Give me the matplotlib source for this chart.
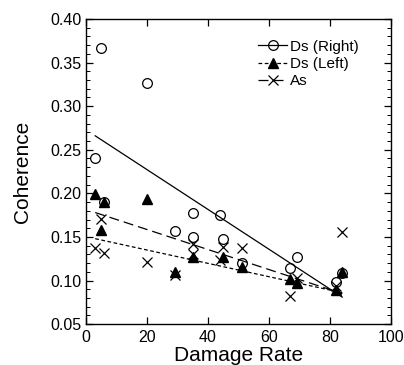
import numpy as np
import matplotlib
matplotlib.use("Agg")
import matplotlib.pyplot as plt
from matplotlib.lines import Line2D
from matplotlib.ticker import MultipleLocator

plt.rcParams['font.family'] = ['Liberation Sans', 'DejaVu Sans']

# Ds (Right) - open circles
right_x = [3, 5, 6, 20, 29, 35, 35, 44, 45, 51, 67, 69, 82, 84]
right_y = [0.240, 0.367, 0.190, 0.327, 0.157, 0.178, 0.150, 0.175, 0.148,
           0.120, 0.114, 0.127, 0.098, 0.109]

# Ds (Left) - filled triangles
left_x = [3, 5, 6, 20, 29, 35, 45, 51, 67, 69, 82, 84]
left_y = [0.199, 0.158, 0.190, 0.194, 0.110, 0.127, 0.127, 0.115, 0.102,
          0.097, 0.089, 0.110]

# As - crosses
as_x = [3, 5, 6, 20, 29, 35, 35, 44, 45, 51, 67, 69, 82, 84]
as_y = [0.137, 0.171, 0.132, 0.121, 0.106, 0.142, 0.130, 0.123, 0.139,
        0.137, 0.082, 0.103, 0.094, 0.156]

# fitted lines (end points)
fit_x = [3, 84]
fit_right = [0.266, 0.081]
fit_left = [0.148, 0.086]
fit_as = [0.178, 0.085]

fig = plt.figure(figsize=(4.04, 3.65), dpi=100)
ax = fig.add_axes([0.213, 0.112, 0.755, 0.836])

ax.plot(fit_x, fit_right, color='black', lw=0.9, ls='-')
ax.plot(fit_x, fit_left, color='black', lw=0.9, ls=(0, (3, 2)))
ax.plot(fit_x, fit_as, color='black', lw=0.9, ls=(0, (8, 4)))

ax.plot(right_x, right_y, ls='none', marker='o', ms=7, mfc='none',
        mec='black', mew=0.9)
ax.plot(left_x, left_y, ls='none', marker='^', ms=6.5, mfc='black',
        mec='black')
ax.plot(as_x, as_y, ls='none', marker='x', ms=7, color='black', mew=0.9)

ax.set_xlim(0, 100)
ax.set_ylim(0.05, 0.40)
ax.xaxis.set_major_locator(MultipleLocator(20))
ax.yaxis.set_major_locator(MultipleLocator(0.05))
ax.yaxis.set_minor_locator(MultipleLocator(0.01))
ax.yaxis.set_major_formatter(matplotlib.ticker.FormatStrFormatter('%.2f'))
ax.tick_params(which='both', direction='in', top=True, right=True,
               labelsize=11.5)
ax.tick_params(which='major', length=5, width=0.9)
ax.tick_params(which='minor', length=3, width=0.7)
ax.tick_params(axis='x', pad=4)
for s in ax.spines.values():
    s.set_linewidth(1.0)

ax.set_xlabel('Damage Rate', fontsize=15, labelpad=1)
ax.set_ylabel('Coherence', fontsize=15, labelpad=13)

handles = [
    Line2D([], [], color='black', lw=0.9, ls='-', marker='o', ms=7,
           mfc='none', mew=0.9),
    Line2D([], [], color='black', lw=0.9, ls=(0, (3, 2)), marker='^', ms=6.5),
    Line2D([], [], color='black', lw=0.9, ls=(0, (8, 4)), marker='x', ms=7,
           mew=0.9),
]
ax.legend(handles, ['Ds (Right)', 'Ds (Left)', 'As'], loc='upper left',
          frameon=False, fontsize=11, handlelength=1.9, handletextpad=0.2,
          labelspacing=0.22, borderpad=0, borderaxespad=0,
          bbox_to_anchor=(0.564, 0.932))

fig.savefig('out.png', dpi=100)
